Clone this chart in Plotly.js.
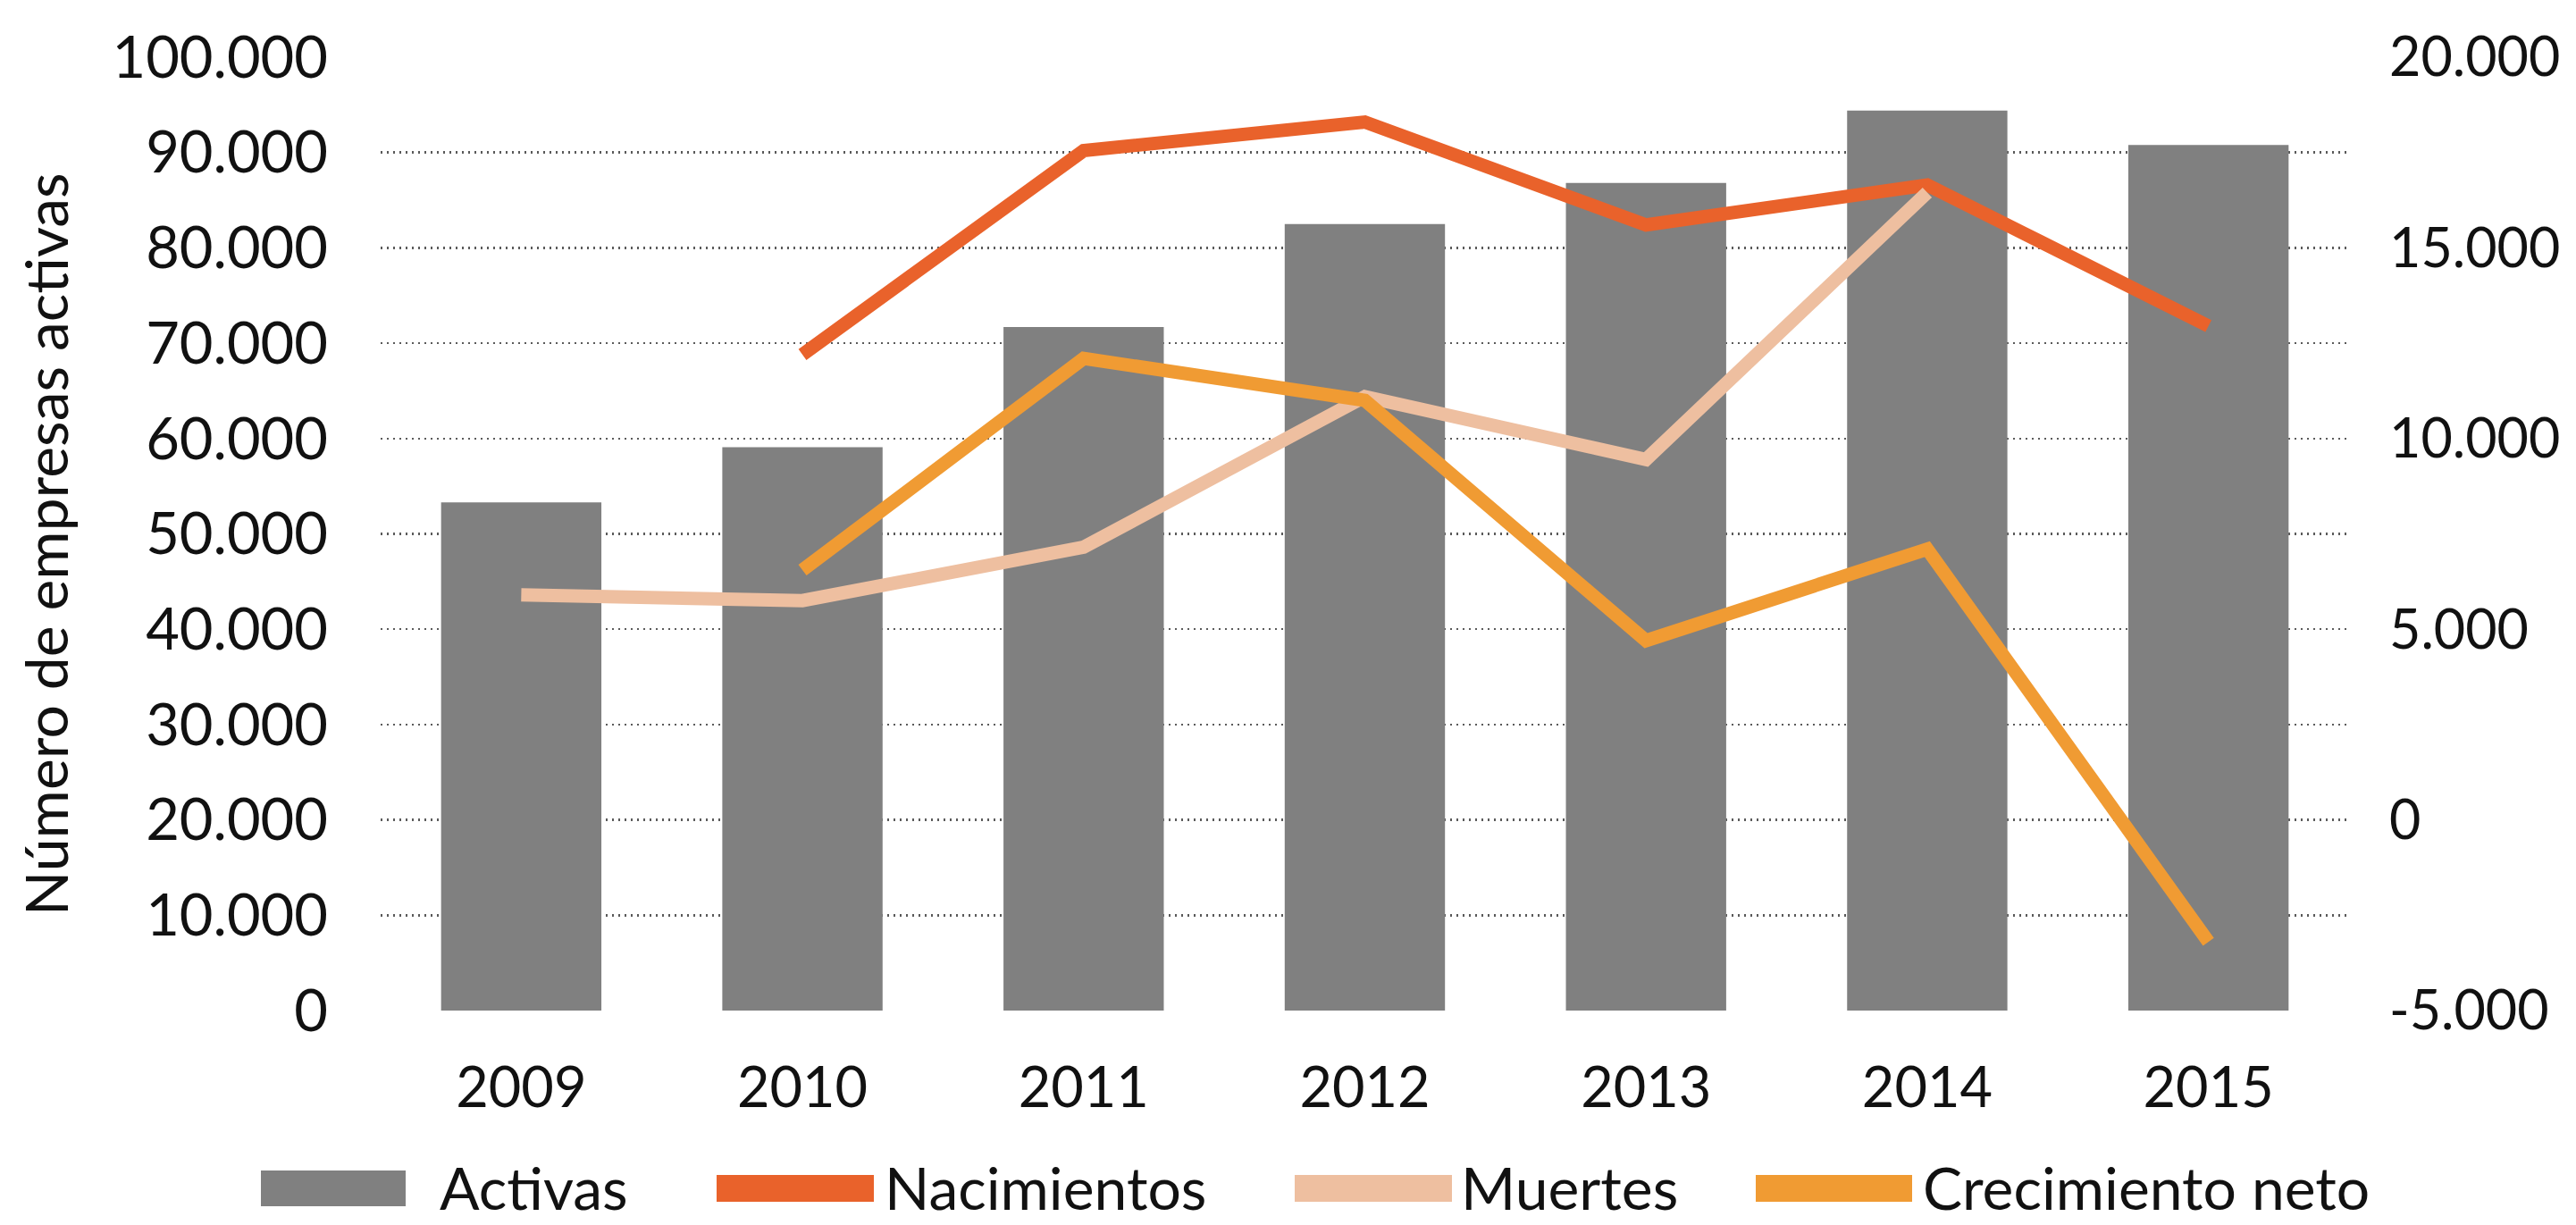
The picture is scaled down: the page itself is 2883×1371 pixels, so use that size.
<!DOCTYPE html>
<html>
<head>
<meta charset="utf-8">
<script src="https://cdn.plot.ly/plotly-3.0.1.min.js"></script>
<style>
  html, body { margin: 0; padding: 0; background: #ffffff; }
  #chart { width: 2883px; height: 1371px; }
</style>
</head>
<body>
<div id="chart"></div>
<script>
// ---- data ----
const years = ['2009', '2010', '2011', '2012', '2013', '2014', '2015'];
const activas = [53300, 59100, 71700, 82500, 86800, 94400, 90800];
const nacimientos = [null, 12200, 17550, 18300, 15600, 16650, 12950];
const muertes = [5900, 5750, 7150, 11100, 9450, 16450, null];
const crecimientoNeto = [null, 6550, 12100, 11000, 4700, 7100, -3200];

const leftTickVals = [0, 10000, 20000, 30000, 40000, 50000, 60000, 70000, 80000, 90000, 100000];
const leftTickText = ['0', '10.000', '20.000', '30.000', '40.000', '50.000', '60.000', '70.000', '80.000', '90.000', '100.000'];
const rightTickVals = [-5000, 0, 5000, 10000, 15000, 20000];
const rightTickText = ['-5.000', '0', '5.000', '10.000', '15.000', '20.000'];

const yTitle = 'Número de empresas activas';
const seriesNames = ['Activas', 'Nacimientos', 'Muertes', 'Crecimiento neto'];
const seriesColors = ['#808080', '#E9622B', '#EEBFA0', '#F09B33'];

// ---- layout geometry (pixels) ----
const W = 2883, H = 1371;
const M = { l: 426, r: 254, t: 64, b: 240 };
const plotW = W - M.l - M.r, plotH = H - M.t - M.b;
const px2x = p => (p - M.l) / plotW;
const px2y = p => (H - M.b - p) / plotH;

const FONT = 'Lato, "Open Sans", sans-serif';
const TXT = '#111111';
const LINE_W = 15;

const traces = [
  { type: 'bar', x: years, y: activas, name: seriesNames[0], marker: { color: seriesColors[0] }, yaxis: 'y' },
  { type: 'scatter', mode: 'lines', x: years, y: nacimientos, name: seriesNames[1], line: { color: seriesColors[1], width: LINE_W }, yaxis: 'y2' },
  { type: 'scatter', mode: 'lines', x: years, y: muertes, name: seriesNames[2], line: { color: seriesColors[2], width: LINE_W }, yaxis: 'y2' },
  { type: 'scatter', mode: 'lines', x: years, y: crecimientoNeto, name: seriesNames[3], line: { color: seriesColors[3], width: LINE_W }, yaxis: 'y2' }
];

// custom legend (shapes + text) to reproduce the wide swatches
const legendItems = [
  { x0: 292, x1: 454, tx: 490, h: 40 },
  { x0: 802, x1: 978, tx: 988, h: 30 },
  { x0: 1449, x1: 1625, tx: 1633, h: 30 },
  { x0: 1965, x1: 2140, tx: 2150, h: 30 }
];
const legendY = 1330;
const shapes = [];
const annotations = [];
legendItems.forEach((it, i) => {
  shapes.push({
    type: 'rect', xref: 'paper', yref: 'paper', layer: 'above',
    x0: px2x(it.x0), x1: px2x(it.x1),
    y0: px2y(legendY + it.h / 2), y1: px2y(legendY - it.h / 2),
    fillcolor: seriesColors[i], line: { width: 0 }
  });
  annotations.push({
    xref: 'paper', yref: 'paper', x: px2x(it.tx), y: px2y(legendY - 2),
    xanchor: 'left', yanchor: 'middle', showarrow: false,
    text: seriesNames[i], font: { family: FONT, size: 66, color: TXT }
  });
});
// rotated y-axis title
annotations.push({
  xref: 'paper', yref: 'paper', x: px2x(50), y: px2y(609),
  xanchor: 'center', yanchor: 'middle', showarrow: false, textangle: -90,
  text: yTitle, font: { family: FONT, size: 66, color: TXT }
});

const layout = {
  width: W, height: H,
  margin: M,
  paper_bgcolor: '#ffffff', plot_bgcolor: '#ffffff',
  showlegend: false,
  bargap: 0.43,
  font: { family: FONT, size: 64, color: TXT },
  xaxis: {
    type: 'category',
    showgrid: false, zeroline: false, showline: false,
    ticks: '', ticklabelstandoff: 44,
    tickfont: { family: FONT, size: 63, color: TXT }
  },
  yaxis: {
    range: [0, 100000],
    tickvals: leftTickVals, ticktext: leftTickText,
    showgrid: true, gridcolor: '#5a5a5a', gridwidth: 2.5, griddash: '2px,5px',
    zeroline: false, showline: false, ticks: '',
    ticklabelstandoff: 58,
    tickfont: { family: FONT, size: 65, color: TXT }
  },
  yaxis2: {
    overlaying: 'y', side: 'right',
    range: [-5000, 20000],
    tickvals: rightTickVals, ticktext: rightTickText,
    showgrid: false, zeroline: false, showline: false, ticks: '',
    ticklabelstandoff: 44,
    tickfont: { family: FONT, size: 61, color: TXT }
  },
  shapes: shapes,
  annotations: annotations
};

Plotly.newPlot('chart', traces, layout, { displayModeBar: false, staticPlot: true });
</script>
</body>
</html>
